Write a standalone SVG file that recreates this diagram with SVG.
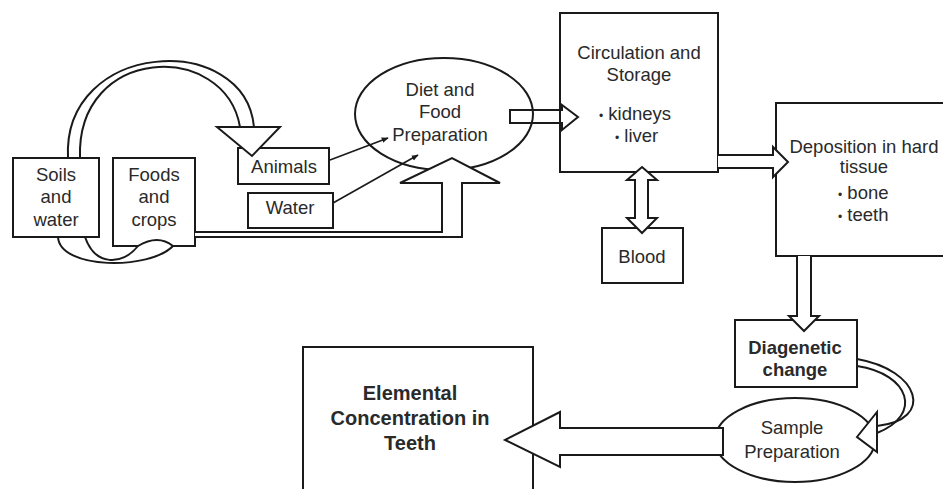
<svg xmlns="http://www.w3.org/2000/svg" width="943" height="489" viewBox="0 0 943 489">
<style>
.box{fill:#fff;stroke:#1a1a1a;stroke-width:2}
.blk{fill:#fff;stroke:#1a1a1a;stroke-width:2;stroke-linejoin:miter}
.ln{fill:none;stroke:#1a1a1a;stroke-width:2}
.thin{fill:none;stroke:#1a1a1a;stroke-width:1.6}
.t{font-family:"Liberation Sans",Arial,sans-serif;font-size:18.5px;fill:#2a2a2a;text-anchor:middle}
.tl{font-family:"Liberation Sans",Arial,sans-serif;font-size:18.5px;fill:#2a2a2a}
.b{font-weight:bold}
.bul{font-size:12px}
</style>
<defs>
<marker id="ah" viewBox="0 0 10 10" refX="9" refY="5" markerWidth="7" markerHeight="7" orient="auto" markerUnits="userSpaceOnUse">
<path d="M0,1 L10,5 L0,9 z" fill="#1a1a1a"/>
</marker>
</defs>
<rect width="943" height="489" fill="#fff"/>

<g id="soils">
<rect class="box" x="13" y="158" width="86" height="79"/>
<text class="t" x="56" y="181">Soils</text>
<text class="t" x="56" y="203">and</text>
<text class="t" x="56" y="226">water</text>
</g>

<g id="foods">
<path class="box" d="M113,158 H195 V246 H173 Q158,234 138,246 H113 Z"/>
<text class="t" x="154" y="181">Foods</text>
<text class="t" x="154" y="203">and</text>
<text class="t" x="154" y="226">crops</text>
</g>

<g id="animals">
<rect class="box" x="238" y="148" width="91" height="36"/>
<text class="t" x="284" y="173">Animals</text>
</g>

<g id="water">
<rect class="box" x="248" y="193" width="85" height="35"/>
<text class="t" x="290" y="214">Water</text>
</g>

<g id="diet">
<ellipse class="box" cx="444" cy="114" rx="89" ry="56"/>
<text class="t" x="440" y="96">Diet and</text>
<text class="t" x="440" y="118">Food</text>
<text class="t" x="440" y="141">Preparation</text>
</g>

<g id="circulation">
<rect class="box" x="560" y="13" width="158" height="159"/>
<text class="t" x="639" y="59">Circulation and</text>
<text class="t" x="639" y="81">Storage</text>
<text class="tl" x="599" y="120"><tspan class="bul">•</tspan> kidneys</text>
<text class="tl" x="615" y="142"><tspan class="bul">•</tspan> liver</text>
</g>

<g id="blood">
<rect class="box" x="602" y="228" width="81" height="55"/>
<text class="t" x="642" y="263">Blood</text>
</g>

<g id="deposition">
<rect class="box" x="776" y="103" width="180" height="153"/>
<text class="t" x="864" y="153">Deposition in hard</text>
<text class="t" x="864" y="173">tissue</text>
<text class="tl" x="838" y="199"><tspan class="bul">•</tspan> bone</text>
<text class="tl" x="838" y="221"><tspan class="bul">•</tspan> teeth</text>
</g>

<g id="diagenetic">
<rect class="box" x="735" y="320" width="122" height="67"/>
<text class="t b" x="795" y="354">Diagenetic</text>
<text class="t b" x="795" y="376">change</text>
</g>

<g id="sample">
<ellipse class="box" cx="795" cy="440" rx="80" ry="42"/>
<text class="t" x="792" y="434">Sample</text>
<text class="t" x="792" y="458">Preparation</text>
</g>

<g id="elemental">
<rect class="box" x="303" y="347" width="230" height="160"/>
<text class="t b" x="410" y="400" style="font-size:20px">Elemental</text>
<text class="t b" x="410" y="425" style="font-size:20px">Concentration in</text>
<text class="t b" x="410" y="450" style="font-size:20px">Teeth</text>
</g>

<g id="connectors">
<path class="ln" d="M58,237 C60,270 150,270 173,246"/>
<path class="ln" d="M85,237 C95,266 122,266 138,246"/>
<path class="ln" d="M68,158 C62,40 245,30 254,127"/>
<path class="ln" d="M80,158 C76,45 225,40 240,127"/>
<polygon class="blk" points="217,127 280,127 252,156"/>
<line class="thin" x1="330" y1="160" x2="388" y2="138" marker-end="url(#ah)"/>
<line class="thin" x1="333" y1="203" x2="418" y2="155" marker-end="url(#ah)"/>
<path class="blk" d="M195,232 H442 V183 H400 L452,158 L500,183 H462 V237 H195"/>
<path class="blk" style="fill:none" d="M510,110 H562 V105 L578,117 L562,130 V123 H510 Z"/>
<path class="blk" d="M642,167 L657,180 H648 V218 H657 L642,233 L627,218 H635 V180 H627 Z"/>
<path class="blk" d="M718,155 H773 V147 L788,162 L773,177 V168 H718"/>
<path class="blk" d="M797,256 V316 H789 L804,331 L819,316 H811 V256"/>
<path class="ln" d="M857,359 C920,370 935,420 877,426"/>
<path class="ln" d="M857,366 C910,374 923,415 877,433"/>
<polygon class="blk" points="877,412 877,452 857,437"/>
<path class="blk" d="M723,428 H560 V412 L505,440 L560,467 V455 H723 Z"/>
</g>
</svg>
